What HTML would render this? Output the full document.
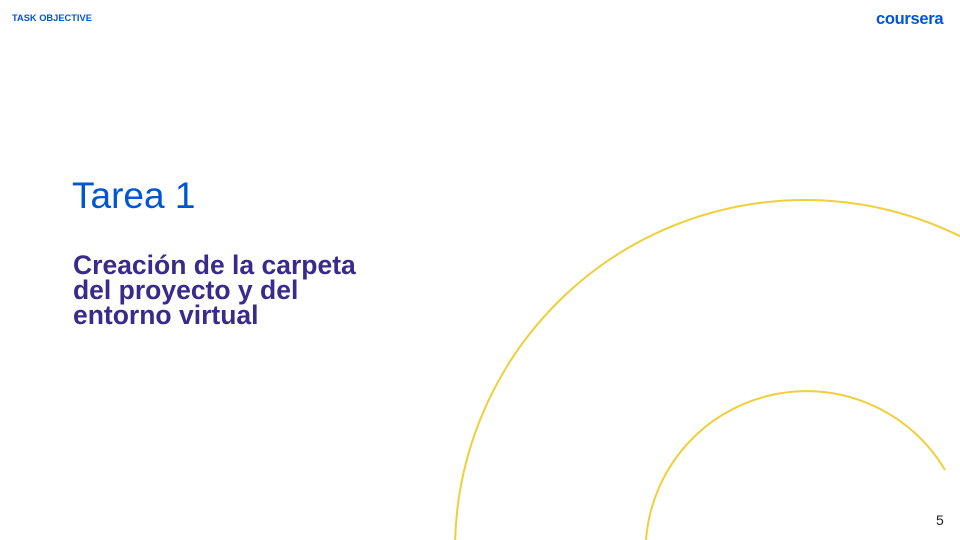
<!DOCTYPE html>
<html><head><meta charset="utf-8"><style>
html,body{margin:0;width:960px;height:540px;overflow:hidden}
body{background:#fff;position:relative;font-family:"Liberation Sans",Arial,sans-serif}
.t{position:absolute;white-space:nowrap}
</style></head><body>
<svg width="960" height="540" style="position:absolute;left:0;top:0;display:block">
<circle cx="805" cy="550" r="350" fill="none" stroke="#f0cf3c" stroke-width="2"/>
<path d="M646 540 A161 161 0 0 1 945 470" fill="none" stroke="#f0cf3c" stroke-width="2"/>
</svg>
<div class="t" style="left:12px;top:13px;font-size:9.3px;font-weight:bold;color:#0056d2">TASK OBJECTIVE</div>
<div class="t" style="left:876px;top:10px;font-size:16.5px;font-weight:bold;color:#0056d2;letter-spacing:-0.3px">coursera</div>
<div class="t" style="left:72px;top:175px;font-size:37px;color:#0056d2">Tarea 1</div>
<div class="t" style="left:73px;top:253px;font-size:26.5px;line-height:25px;font-weight:bold;color:#3a2a8c">Creación de la carpeta<br>del proyecto y del<br>entorno virtual</div>
<div class="t" style="left:936px;top:512px;font-size:14px;color:#222">5</div>
</body></html>
